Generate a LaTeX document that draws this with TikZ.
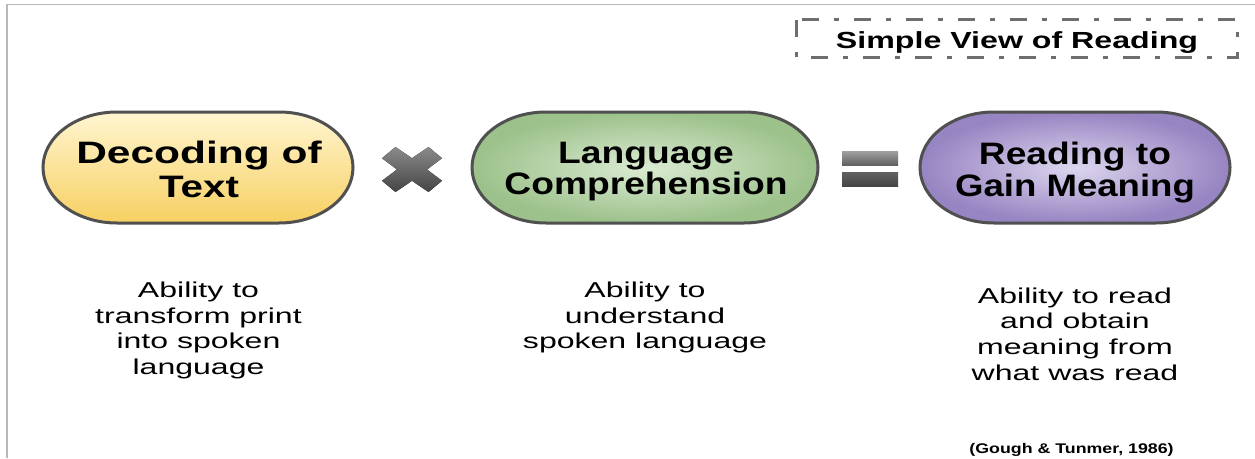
\documentclass[tikz,border=0pt]{standalone}
\usepackage{fontspec}
\setmainfont{Liberation Sans}
\definecolor{frameGray}{HTML}{B8B8B8}
\definecolor{edgeGray}{HTML}{505050}
\definecolor{dashGray}{HTML}{6E6E6E}
\definecolor{yelTop}{HTML}{FFF5D0}
\definecolor{yelBot}{HTML}{F7D062}
\definecolor{grnIn}{HTML}{DAEBD3}
\definecolor{grnOut}{HTML}{9CC18A}
\definecolor{purIn}{HTML}{DDD6EE}
\definecolor{purOut}{HTML}{9784C2}
\definecolor{symTop}{HTML}{8A8A8A}
\definecolor{symBot}{HTML}{454545}
% horizontal stretch of a piece of text
\newcommand\hs[2]{\scalebox{#1}[1]{#2}}
\tikzset{
  pill/.style={draw=edgeGray, line width=3pt},
  boxtext/.style={align=center, inner sep=0pt, font=\fontsize{31}{31.5}\selectfont\bfseries},
  desctext/.style={align=center, inner sep=0pt, font=\fontsize{21.5}{25.6}\selectfont},
}
\begin{document}
\begin{tikzpicture}[x=1pt,y=-1pt]
\useasboundingbox (0,0) rectangle (1255,458);
\fill[white] (0,0) rectangle (1255,458);

% page frame (top and left edges)
\draw[frameGray, line width=1.5pt] (7,4.5) -- (1255,4.5);
\draw[frameGray, line width=2pt] (7,4) -- (7,458);

% heading in a dash-dot frame
\draw[dashGray, line width=3pt, dash pattern=on 17pt off 15pt on 5pt off 15pt]
  (796.5,19.5) rectangle (1237.5,57.5);
\node[anchor=base, inner sep=0pt, font=\fontsize{23.3}{26}\selectfont\bfseries] (head) at (1017,48.3)
  {\hs{1.38}{Simple View of Reading}};

% three rounded boxes
\path[pill, top color=yelTop, bottom color=yelBot]
  (117,112) -- (279,112) arc[start angle=90,end angle=-90,x radius=74pt,y radius=55.5pt]
  -- (117,223) arc[start angle=270,end angle=90,x radius=74pt,y radius=55.5pt] -- cycle;
\path[pill, inner color=grnIn, outer color=grnOut]
  (546,112) -- (744,112) arc[start angle=90,end angle=-90,x radius=74pt,y radius=55.5pt]
  -- (546,223) arc[start angle=270,end angle=90,x radius=74pt,y radius=55.5pt] -- cycle;
\path[pill, inner color=purIn, outer color=purOut]
  (994,112) -- (1156,112) arc[start angle=90,end angle=-90,x radius=74pt,y radius=55.5pt]
  -- (994,223) arc[start angle=270,end angle=90,x radius=74pt,y radius=55.5pt] -- cycle;

\node[boxtext, font=\fontsize{31}{33.5}\selectfont\bfseries] (dec) at (199,169.5)
  {\hs{1.37}{Decoding of}\\\hs{1.30}{Text}};
\node[boxtext] (lang) at (646,171.5) {\hs{1.2}{Language}\\\hs{1.2}{Comprehension}};
\node[boxtext] (read) at (1075,172.5) {\hs{1.2}{Reading to}\\\hs{1.18}{Gain Meaning}};

% multiplication sign
\fill[top color=symTop, bottom color=symBot]
  (412+15,169.5) -- (412+30,169.5-11.3) -- (412+16.5,169.5-22.5) -- (412,169.5-11.3)
  -- (412-16.5,169.5-22.5) -- (412-30,169.5-11.3) -- (412-15,169.5)
  -- (412-30,169.5+11.3) -- (412-16.5,169.5+22.5) -- (412,169.5+11.3)
  -- (412+16.5,169.5+22.5) -- (412+30,169.5+11.3) -- cycle;

% equals sign
\fill[top color=symTop!80!white, bottom color=symTop!70!black] (842,151) rectangle (898,165);
\fill[top color=symBot!85!white, bottom color=symBot] (842,172) rectangle (898,186);

% descriptions
\node[desctext] (d1) at (198.5,330.3)
  {\hs{1.49}{Ability to}\\\hs{1.49}{transform print}\\\hs{1.49}{into spoken}\\\hs{1.49}{language}};
\node[desctext] (d2) at (645,317.6)
  {\hs{1.49}{Ability to}\\\hs{1.49}{understand}\\\hs{1.49}{spoken language}};
\node[desctext] (d3) at (1075,334.1)
  {\hs{1.49}{Ability to read}\\\hs{1.49}{and obtain}\\\hs{1.49}{meaning from}\\\hs{1.49}{what was read}};

% source
\node[anchor=base, inner sep=0pt, font=\fontsize{14}{16}\selectfont\bfseries] (src) at (1071.5,453)
  {\hs{1.27}{(Gough \& Tunmer, 1986)}};
\end{tikzpicture}
\end{document}
